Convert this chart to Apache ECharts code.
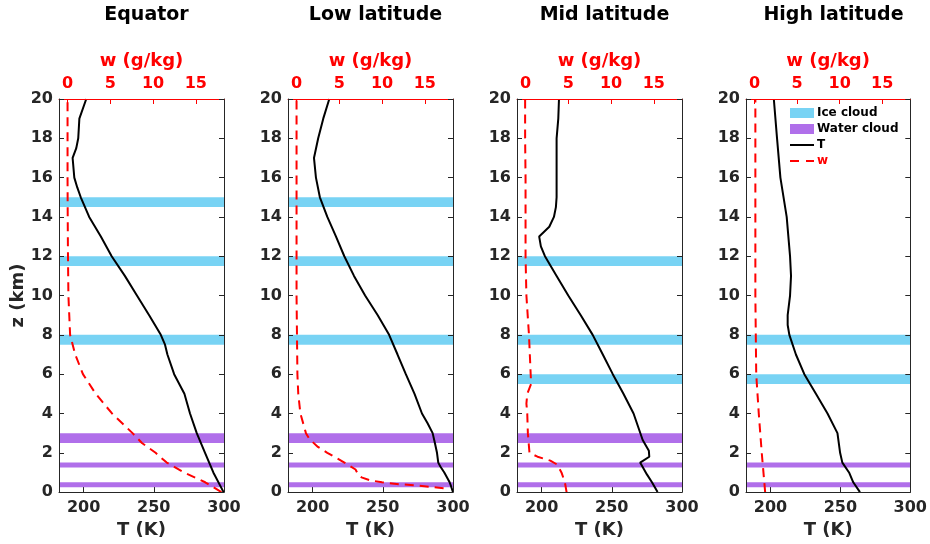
<!DOCTYPE html>
<html>
<head>
<meta charset="utf-8">
<title>Atmospheric profiles</title>
<script src="https://cdn.jsdelivr.net/npm/echarts@6/dist/echarts.min.js"></script>
<style>
  html, body { margin: 0; padding: 0; background: #fff; }
  #chart { width: 930px; height: 544px; }
</style>
</head>
<body>
<div id="chart"></div>
<script>
// Panel titles
const panelTitles = ['Equator', 'Low latitude', 'Mid latitude', 'High latitude'];

// Axis tick values
const tTicks = [200, 250, 300];
const wTicks = [0, 5, 10, 15];

// Equator: temperature (K) and water vapour mixing ratio (g/kg) against height (km)
const equatorTz = [0, 1, 2, 3, 4, 5, 6, 7, 7.5, 8, 9, 10, 11, 12, 13, 14, 15, 15.5, 16, 17, 17.5, 18, 19, 20];
const equatorT  = [299.7, 292.4, 286.5, 280.6, 275.8, 271.8, 264.5, 259.7, 258, 255, 246.7, 238, 229.4, 220, 212.3, 204, 198, 195.5, 193.4, 192.2, 194.8, 196.2, 197, 201.9];
const equatorWz = [0, 0.5, 1, 1.5, 2, 2.5, 3, 4, 5, 6, 7, 8, 10, 12, 14, 16, 18, 20];
const equatorW  = [18.0, 16.1, 13.6, 11.6, 10.3, 8.7, 7.6, 5.2, 3.3, 1.8, 0.9, 0.3, 0.1, 0.05, 0.02, 0, 0, 0];

// Low latitude
const lowTz = [0, 0.3, 0.5, 1, 1.3, 1.5, 2, 2.5, 3, 3.5, 4, 5, 6, 7, 8, 9, 10, 11, 12, 13, 14, 15, 16, 17, 18, 19, 20];
const lowT  = [300, 298.6, 297.6, 293.8, 291, 289.5, 288.6, 287.1, 285.5, 281.9, 277.9, 272.6, 266.4, 260.5, 254.5, 246.4, 237.4, 229.5, 222.6, 216.7, 210.5, 205.2, 202.4, 201, 204, 207.6, 211.9];
const lowWz = [0.2, 0.25, 0.35, 0.4, 0.5, 0.6, 0.75, 0.9, 1.15, 1.5, 2, 2.3, 2.7, 3, 4, 5, 6, 8, 10, 20];
const lowW  = [17.2, 16.0, 13.7, 12.0, 10.0, 8.6, 7.6, 7.2, 6.9, 5.6, 3.6, 2.5, 1.5, 1.1, 0.45, 0.2, 0.1, 0.05, 0, 0];

// Mid latitude
const midTz = [0, 0.5, 0.9, 1.5, 1.8, 2.1, 2.65, 4, 5, 6, 7, 8, 9, 10, 11, 12, 12.5, 13, 13.5, 14, 14.5, 15, 16, 17, 18, 19, 20];
const midT  = [282.6, 278.6, 275, 270.2, 276.7, 276.4, 272, 265.5, 258.3, 250.7, 243.6, 236.4, 227.9, 219, 210.7, 202.4, 199.5, 198.3, 205.5, 208.8, 210.2, 210.7, 210.7, 210.7, 210.7, 211.9, 212.4];
const midWz = [0, 0.5, 1, 1.4, 1.6, 1.8, 2, 3, 4, 4.5, 5, 5.5, 6, 8, 10, 12, 14, 16, 18, 20];
const midW  = [4.8, 4.6, 4.2, 3.7, 2.9, 1.4, 0.46, 0.27, 0.2, 0.1, 0.2, 0.65, 0.6, 0.4, 0.1, 0, 0, 0, -0.05, -0.05];

// High latitude
const highTz = [0, 0.5, 1, 1.5, 2, 3, 4, 5, 6, 7, 8, 8.5, 9, 10, 11, 12, 14, 16, 18, 20];
const highT  = [264, 259.2, 256.2, 251.4, 249.8, 247.9, 240.8, 232.5, 224.2, 218.2, 213.5, 212.3, 212.3, 214, 214.7, 214, 211.6, 207.1, 204.7, 202.4];
const highWz = [0, 2, 4, 6, 10, 20];
const highW  = [1.25, 0.85, 0.5, 0.2, 0.1, 0.1];

// Cloud layers: [base, top] in km
const equatorIce   = [[14.5, 15], [11.5, 12], [7.5, 8]];
const equatorWater = [[2.5, 3], [1.25, 1.5], [0.25, 0.5]];
const lowIce       = [[14.5, 15], [11.5, 12], [7.5, 8]];
const lowWater     = [[2.5, 3], [1.25, 1.5], [0.25, 0.5]];
const midIce       = [[11.5, 12], [7.5, 8], [5.5, 6]];
const midWater     = [[2.5, 3], [1.25, 1.5], [0.25, 0.5]];
const highIce      = [[7.5, 8], [5.5, 6]];
const highWater    = [[1.25, 1.5], [0.25, 0.5]];

const profiles = [
  { Tz: equatorTz, T: equatorT, Wz: equatorWz, W: equatorW, ice: equatorIce, water: equatorWater },
  { Tz: lowTz, T: lowT, Wz: lowWz, W: lowW, ice: lowIce, water: lowWater },
  { Tz: midTz, T: midT, Wz: midWz, W: midW, ice: midIce, water: midWater },
  { Tz: highTz, T: highT, Wz: highWz, W: highW, ice: highIce, water: highWater }
];

const FONT = 'DejaVu Sans';
const INK = '#262626';
const RED = '#ff0000';
const ICE = '#78d3f4';
const WATER = '#b06fea';

const T_MIN = 182.5, T_MAX = 300;
const W_MIN = -1, W_MAX = 18.3;

const gridLefts = [59, 288, 517, 746];
const gridWidth = 165, gridTop = 99, gridHeight = 394;

// legend glyphs: solid stroke and a two-dash stroke
const solidIcon = 'path://M0,0 L24,0 L24,2 L0,2 Z';
const dashIcon = 'path://M0,0 L9,0 L9,2 L0,2 Z M16,0 L24,0 L24,2 L16,2 Z';

const chart = echarts.init(document.getElementById('chart'), null, { renderer: 'canvas' });

const grid = [], xAxis = [], yAxis = [], series = [], title = [];

function bandRenderer(params, api) {
  const cs = params.coordSys;
  const yTop = api.coord([T_MIN, api.value(1)])[1];
  const yBot = api.coord([T_MIN, api.value(0)])[1];
  return {
    type: 'rect',
    shape: { x: cs.x, y: yTop, width: cs.width, height: yBot - yTop },
    style: { fill: api.visual('color') }
  };
}

profiles.forEach((p, i) => {
  const left = gridLefts[i];
  grid.push({ left: left, top: gridTop, width: gridWidth, height: gridHeight, containLabel: false });

  title.push({
    text: panelTitles[i],
    left: left + gridWidth / 2,
    top: 1,
    textAlign: 'center',
    textStyle: { fontFamily: FONT, fontWeight: 'bold', fontSize: 19, color: '#000' }
  });

  // bottom temperature axis
  xAxis.push({
    gridIndex: i, type: 'value', position: 'bottom', min: T_MIN, max: T_MAX, z: 10,
    name: 'T (K)', nameLocation: 'middle', nameGap: 27,
    nameTextStyle: { fontFamily: FONT, fontWeight: 'bold', fontSize: 18, color: INK },
    axisLine: { show: true, onZero: false, lineStyle: { color: INK, width: 1 } },
    axisTick: { show: true, inside: true, length: 5, customValues: tTicks, lineStyle: { color: INK } },
    axisLabel: { customValues: tTicks, margin: 8, fontFamily: FONT, fontWeight: 'bold', fontSize: 16, color: INK },
    splitLine: { show: false }
  });
  // top mixing-ratio axis
  xAxis.push({
    gridIndex: i, type: 'value', position: 'top', min: W_MIN, max: W_MAX, z: 10,
    name: 'w (g/kg)', nameLocation: 'middle', nameGap: 29,
    nameTextStyle: { fontFamily: FONT, fontWeight: 'bold', fontSize: 18, color: RED },
    axisLine: { show: true, onZero: false, lineStyle: { color: RED, width: 1 } },
    axisTick: { show: true, inside: true, length: 5, customValues: wTicks, lineStyle: { color: RED } },
    axisLabel: { customValues: wTicks, margin: 7, fontFamily: FONT, fontWeight: 'bold', fontSize: 16, color: RED },
    splitLine: { show: false }
  });
  // left height axis
  yAxis.push({
    gridIndex: i, type: 'value', position: 'left', min: 0, max: 20, interval: 2, z: 10,
    name: i === 0 ? 'z (km)' : '', nameLocation: 'middle', nameGap: 32,
    nameTextStyle: { fontFamily: FONT, fontWeight: 'bold', fontSize: 18, color: INK },
    axisLine: { show: true, onZero: false, lineStyle: { color: INK, width: 1 } },
    axisTick: { show: true, inside: true, length: 5, lineStyle: { color: INK } },
    axisLabel: { margin: 6, fontFamily: FONT, fontWeight: 'bold', fontSize: 16, color: INK },
    splitLine: { show: false }
  });
  // right frame with ticks
  yAxis.push({
    gridIndex: i, type: 'value', position: 'right', min: 0, max: 20, interval: 2, z: 10,
    axisLine: { show: true, onZero: false, lineStyle: { color: INK, width: 1 } },
    axisTick: { show: true, inside: true, length: 5, lineStyle: { color: INK } },
    axisLabel: { show: false },
    splitLine: { show: false }
  });

  const xT = i * 2, xW = i * 2 + 1, yZ = i * 2;

  series.push({
    name: 'Ice cloud', type: 'custom', xAxisIndex: xT, yAxisIndex: yZ, z: 1,
    itemStyle: { color: ICE }, encode: { y: [0, 1] }, silent: true,
    renderItem: bandRenderer, data: p.ice
  });
  series.push({
    name: 'Water cloud', type: 'custom', xAxisIndex: xT, yAxisIndex: yZ, z: 1,
    itemStyle: { color: WATER }, encode: { y: [0, 1] }, silent: true,
    renderItem: bandRenderer, data: p.water
  });
  series.push({
    name: 'T', type: 'line', xAxisIndex: xT, yAxisIndex: yZ, z: 4,
    symbol: 'none', silent: true, animation: false,
    itemStyle: { color: '#000' },
    lineStyle: { color: '#000', width: 2 },
    data: p.Tz.map((z, k) => [p.T[k], z])
  });
  series.push({
    name: 'w', type: 'line', xAxisIndex: xW, yAxisIndex: yZ, z: 3,
    symbol: 'none', silent: true, animation: false,
    itemStyle: { color: RED },
    lineStyle: { color: RED, width: 2, type: [9, 6] },
    data: p.Wz.map((z, k) => [p.W[k], z])
  });
});

chart.setOption({
  animation: false,
  backgroundColor: '#fff',
  title: title,
  grid: grid,
  xAxis: xAxis,
  yAxis: yAxis,
  legend: {
    orient: 'vertical',
    left: 790,
    top: 107,
    itemWidth: 24,
    itemHeight: 10,
    itemGap: 4,
    padding: 0,
    selectedMode: false,
    textStyle: { fontFamily: FONT, fontWeight: 'bold', fontSize: 12, color: '#000', padding: [0, 0, 0, -2] },
    data: [
      { name: 'Ice cloud', icon: 'rect' },
      { name: 'Water cloud', icon: 'rect' },
      { name: 'T', icon: solidIcon, itemStyle: { color: '#000' } },
      { name: 'w', icon: dashIcon, itemStyle: { color: RED }, textStyle: { color: RED } }
    ]
  },
  series: series
});
</script>
</body>
</html>
